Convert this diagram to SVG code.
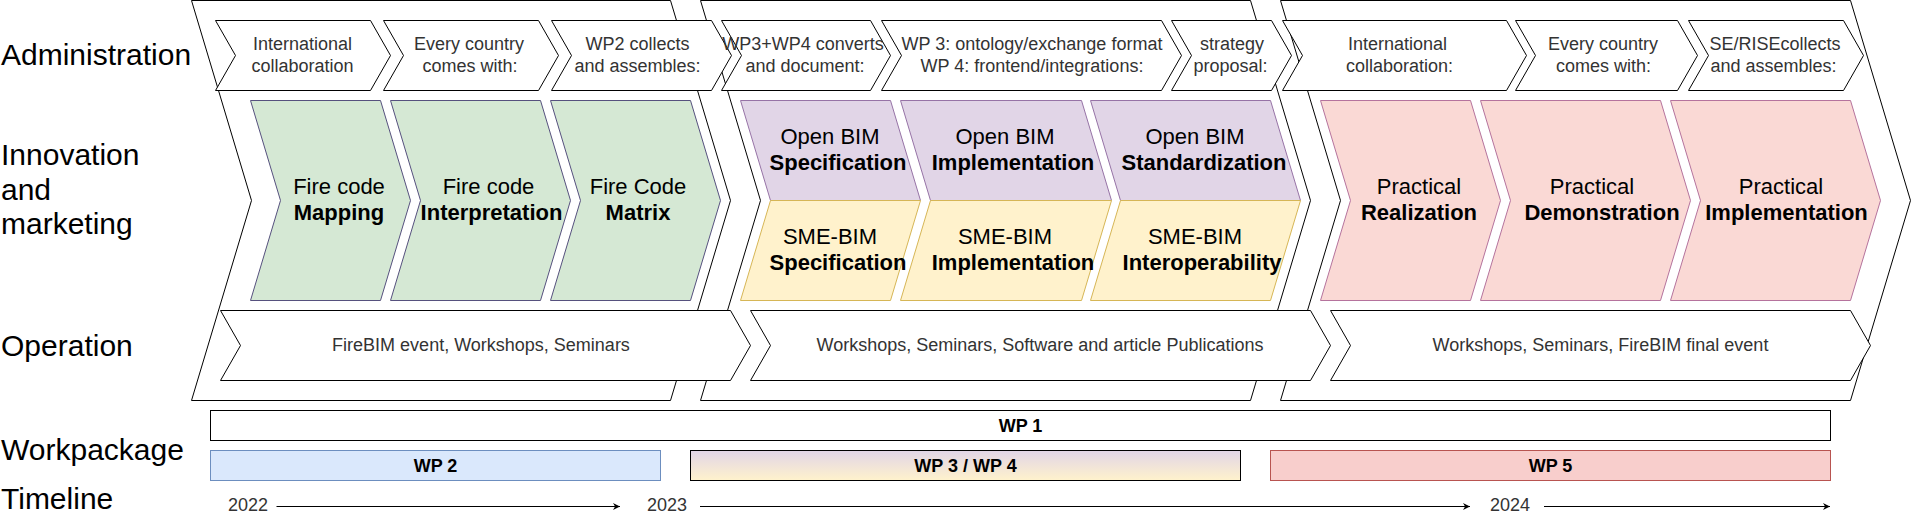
<svg xmlns="http://www.w3.org/2000/svg" width="1911" height="521" viewBox="0 0 1911 521">
<defs>
<style>
text{font-family:"Liberation Sans",Arial,Helvetica,sans-serif;}
.lab{font-size:30px;fill:#000;}
.sm{font-size:18px;fill:#333;text-anchor:middle;}
.big{font-size:22px;fill:#000;text-anchor:middle;}
.b{font-weight:bold;}
.wp{font-size:18px;font-weight:bold;fill:#000;text-anchor:middle;}
.yr{font-size:18px;fill:#333;text-anchor:middle;}
.w{fill:#fff;stroke:#000;stroke-width:1;}
.g{fill:#d5e8d4;stroke:#56517e;stroke-width:1;}
.pu{fill:#e1d5e7;stroke:#9673a6;stroke-width:1;}
.ye{fill:#fff2cc;stroke:#d6b656;stroke-width:1;}
.pk{fill:#fad9d5;stroke:#b5739d;stroke-width:1;}
.ln{stroke:#000;stroke-width:1;fill:none;}
</style>
<linearGradient id="gr34" x1="0" y1="0" x2="0" y2="1">
<stop offset="0" stop-color="#e1d5e7"/>
<stop offset="1" stop-color="#fff2cc"/>
</linearGradient>
<marker id="arr" viewBox="0 0 10 10" refX="10" refY="5" markerWidth="8" markerHeight="7" markerUnits="userSpaceOnUse" orient="auto">
<path d="M0,0 L10,5 L0,10 L3,5 Z" fill="#000"/>
</marker>
</defs>

<g id="labels">
<text class="lab" x="1" y="65">Administration</text>
<text class="lab" x="1" y="165">Innovation</text>
<text class="lab" x="1" y="200">and</text>
<text class="lab" x="1" y="234">marketing</text>
<text class="lab" x="1" y="356">Operation</text>
<text class="lab" x="1" y="460">Workpackage</text>
<text class="lab" x="1" y="509">Timeline</text>
</g>

<g id="phase1"><path class="w" d="M191.5,0.5 L670.5,0.5 L730.5,200.5 L670.5,400.5 L191.5,400.5 L251.5,200.5 Z"/></g>
<g id="phase2"><path class="w" d="M700.5,0.5 L1250.5,0.5 L1310.5,200.5 L1250.5,400.5 L700.5,400.5 L760.5,200.5 Z"/></g>
<g id="phase3"><path class="w" d="M1280.5,0.5 L1850.5,0.5 L1910.5,200.5 L1850.5,400.5 L1280.5,400.5 L1340.5,200.5 Z"/></g>

<g id="admin1"><path class="w" d="M215.5,20.5 L370.5,20.5 L390.5,55.5 L370.5,90.5 L215.5,90.5 L235.5,55.5 Z"/>
<text class="sm" x="302.5" y="50">International</text><text class="sm" x="302.5" y="71.5">collaboration</text></g>
<g id="admin2"><path class="w" d="M383.5,20.5 L538.5,20.5 L558.5,55.5 L538.5,90.5 L383.5,90.5 L403.5,55.5 Z"/>
<text class="sm" x="469" y="50">Every country</text><text class="sm" x="470" y="71.5">comes with:</text></g>
<g id="admin3"><path class="w" d="M551.5,20.5 L711.5,20.5 L731.5,55.5 L711.5,90.5 L551.5,90.5 L571.5,55.5 Z"/>
<text class="sm" x="637.5" y="50">WP2 collects</text><text class="sm" x="637.5" y="71.5">and assembles:</text></g>
<g id="admin4"><path class="w" d="M721.5,20.5 L870.5,20.5 L890.5,55.5 L870.5,90.5 L721.5,90.5 L741.5,55.5 Z"/>
<text class="sm" x="803" y="50">WP3+WP4 converts</text><text class="sm" x="805" y="71.5">and document:</text></g>
<g id="admin5"><path class="w" d="M881.5,20.5 L1161.5,20.5 L1181.5,55.5 L1161.5,90.5 L881.5,90.5 L901.5,55.5 Z"/>
<text class="sm" x="1032" y="50">WP 3: ontology/exchange format</text><text class="sm" x="1032" y="71.5">WP 4: frontend/integrations:</text></g>
<g id="admin6"><path class="w" d="M1171.5,20.5 L1271.5,20.5 L1291.5,55.5 L1271.5,90.5 L1171.5,90.5 L1191.5,55.5 Z"/>
<text class="sm" x="1232" y="50">strategy</text><text class="sm" x="1230.5" y="71.5">proposal:</text></g>
<g id="admin7"><path class="w" d="M1282.5,20.5 L1506.5,20.5 L1526.5,55.5 L1506.5,90.5 L1282.5,90.5 L1302.5,55.5 Z"/>
<text class="sm" x="1397.5" y="50">International</text><text class="sm" x="1399.5" y="71.5">collaboration:</text></g>
<g id="admin8"><path class="w" d="M1515.5,20.5 L1677.5,20.5 L1697.5,55.5 L1677.5,90.5 L1515.5,90.5 L1535.5,55.5 Z"/>
<text class="sm" x="1603" y="50">Every country</text><text class="sm" x="1603.5" y="71.5">comes with:</text></g>
<g id="admin9"><path class="w" d="M1688.5,20.5 L1843.5,20.5 L1863.5,55.5 L1843.5,90.5 L1688.5,90.5 L1708.5,55.5 Z"/>
<text class="sm" x="1775" y="50">SE/RISEcollects</text><text class="sm" x="1773.5" y="71.5">and assembles:</text></g>

<g id="fire-mapping"><path class="g" d="M250.5,100.5 L380.5,100.5 L410.5,200.5 L380.5,300.5 L250.5,300.5 L280.5,200.5 Z"/>
<text class="big" x="339" y="194">Fire code</text><text class="big b" x="339" y="220">Mapping</text></g>
<g id="fire-interpretation"><path class="g" d="M390.5,100.5 L540.5,100.5 L570.5,200.5 L540.5,300.5 L390.5,300.5 L420.5,200.5 Z"/>
<text class="big" x="488.5" y="194">Fire code</text><text class="big b" x="491.5" y="220">Interpretation</text></g>
<g id="fire-matrix"><path class="g" d="M550.5,100.5 L690.5,100.5 L720.5,200.5 L690.5,300.5 L550.5,300.5 L580.5,200.5 Z"/>
<text class="big" x="638" y="194">Fire Code</text><text class="big b" x="638" y="220">Matrix</text></g>

<g id="openbim-spec"><path class="pu" d="M740.5,100.5 L890.5,100.5 L920.5,200.5 L770.5,200.5 Z"/>
<text class="big" x="830" y="144">Open BIM</text><text class="big b" x="838" y="170">Specification</text></g>
<g id="smebim-spec"><path class="ye" d="M770.5,200.5 L920.5,200.5 L890.5,300.5 L740.5,300.5 Z"/>
<text class="big" x="830" y="244">SME-BIM</text><text class="big b" x="838" y="270">Specification</text></g>
<g id="openbim-impl"><path class="pu" d="M900.5,100.5 L1081.5,100.5 L1111.5,200.5 L930.5,200.5 Z"/>
<text class="big" x="1005" y="144">Open BIM</text><text class="big b" x="1013" y="170">Implementation</text></g>
<g id="smebim-impl"><path class="ye" d="M930.5,200.5 L1111.5,200.5 L1081.5,300.5 L900.5,300.5 Z"/>
<text class="big" x="1005" y="244">SME-BIM</text><text class="big b" x="1013" y="270">Implementation</text></g>
<g id="openbim-std"><path class="pu" d="M1090.5,100.5 L1270.5,100.5 L1300.5,200.5 L1120.5,200.5 Z"/>
<text class="big" x="1195" y="144">Open BIM</text><text class="big b" x="1204" y="170">Standardization</text></g>
<g id="smebim-interop"><path class="ye" d="M1120.5,200.5 L1300.5,200.5 L1270.5,300.5 L1090.5,300.5 Z"/>
<text class="big" x="1195" y="244">SME-BIM</text><text class="big b" x="1202" y="270">Interoperability</text></g>

<g id="practical-realization"><path class="pk" d="M1320.5,100.5 L1470.5,100.5 L1500.5,200.5 L1470.5,300.5 L1320.5,300.5 L1350.5,200.5 Z"/>
<text class="big" x="1419" y="194">Practical</text><text class="big b" x="1419" y="220">Realization</text></g>
<g id="practical-demonstration"><path class="pk" d="M1480.5,100.5 L1660.5,100.5 L1690.5,200.5 L1660.5,300.5 L1480.5,300.5 L1510.5,200.5 Z"/>
<text class="big" x="1592" y="194">Practical</text><text class="big b" x="1602" y="220">Demonstration</text></g>
<g id="practical-implementation"><path class="pk" d="M1670.5,100.5 L1850.5,100.5 L1880.5,200.5 L1850.5,300.5 L1670.5,300.5 L1700.5,200.5 Z"/>
<text class="big" x="1781" y="194">Practical</text><text class="big b" x="1786.5" y="220">Implementation</text></g>

<g id="op1"><path class="w" d="M220.5,310.5 L730.5,310.5 L750.5,345.5 L730.5,380.5 L220.5,380.5 L240.5,345.5 Z"/>
<text class="sm" x="481" y="351">FireBIM event, Workshops, Seminars</text></g>
<g id="op2"><path class="w" d="M750.5,310.5 L1310.5,310.5 L1330.5,345.5 L1310.5,380.5 L750.5,380.5 L770.5,345.5 Z"/>
<text class="sm" x="1040" y="351">Workshops, Seminars, Software and article Publications</text></g>
<g id="op3"><path class="w" d="M1330.5,310.5 L1850.5,310.5 L1870.5,345.5 L1850.5,380.5 L1330.5,380.5 L1350.5,345.5 Z"/>
<text class="sm" x="1600.5" y="351">Workshops, Seminars, FireBIM final event</text></g>

<g id="wp1"><rect class="w" x="210.5" y="410.5" width="1620" height="30"/><text class="wp" x="1020.5" y="432">WP 1</text></g>
<g id="wp2"><rect x="210.5" y="450.5" width="450" height="30" fill="#dae8fc" stroke="#6c8ebf"/><text class="wp" x="435.5" y="472">WP 2</text></g>
<g id="wp34"><rect x="690.5" y="450.5" width="550" height="30" fill="url(#gr34)" stroke="#000"/><text class="wp" x="965.5" y="472">WP 3 / WP 4</text></g>
<g id="wp5"><rect x="1270.5" y="450.5" width="560" height="30" fill="#f8cecc" stroke="#b85450"/><text class="wp" x="1550.5" y="472">WP 5</text></g>

<g id="years">
<text class="yr" x="248" y="511">2022</text>
<text class="yr" x="667" y="511">2023</text>
<text class="yr" x="1510" y="511">2024</text>
</g>

<g id="connectors">
<line class="ln" x1="276.5" y1="506.5" x2="620" y2="506.5" marker-end="url(#arr)"/>
<line class="ln" x1="700" y1="506.5" x2="1470" y2="506.5" marker-end="url(#arr)"/>
<line class="ln" x1="1544" y1="506.5" x2="1830" y2="506.5" marker-end="url(#arr)"/>
</g>
</svg>
